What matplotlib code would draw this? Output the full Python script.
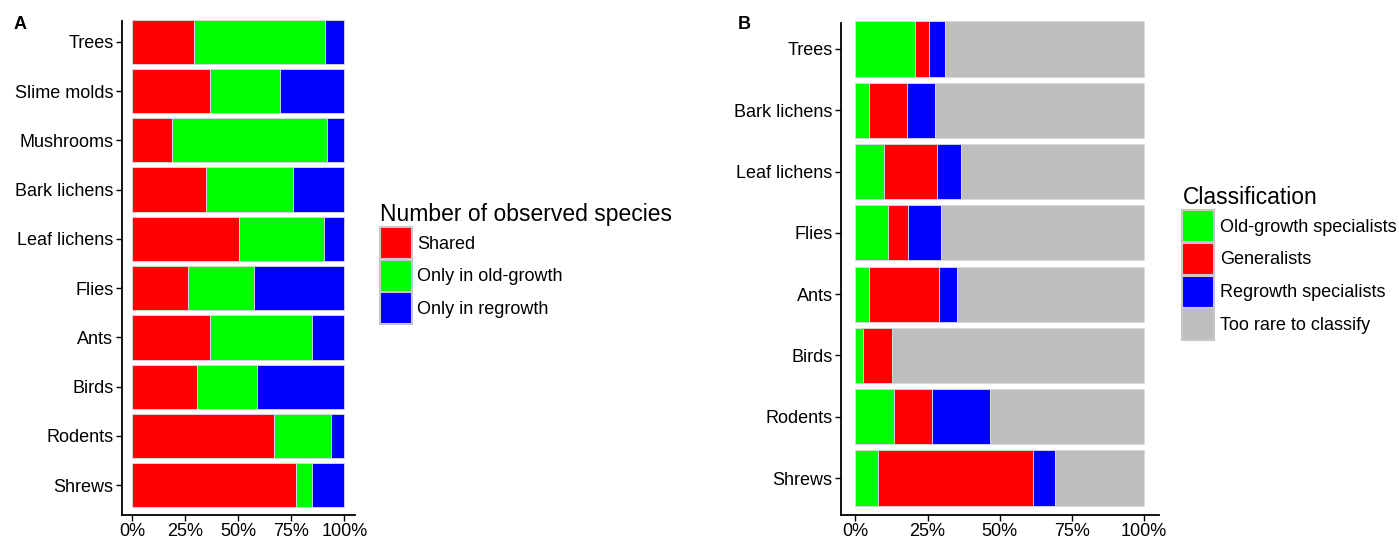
import matplotlib
matplotlib.use("Agg")
import matplotlib.pyplot as plt
from matplotlib.patches import Patch
from matplotlib.ticker import PercentFormatter
import numpy as np

plt.rcParams['font.family'] = ['Liberation Sans', 'DejaVu Sans']

# Panel A : part des espèces observées
groupes_a = ["Trees", "Slime molds", "Mushrooms", "Bark lichens", "Leaf lichens",
             "Flies", "Ants", "Birds", "Rodents", "Shrews"]
shared = [0.289, 0.365, 0.189, 0.349, 0.505, 0.263, 0.368, 0.307, 0.667, 0.770]
only_old = [0.620, 0.333, 0.729, 0.410, 0.398, 0.311, 0.479, 0.283, 0.269, 0.077]
only_regrowth = [0.091, 0.302, 0.082, 0.241, 0.097, 0.426, 0.153, 0.410, 0.064, 0.153]
labels_a = ["Shared", "Only in old-growth", "Only in regrowth"]

# Panel B : classification
groupes_b = ["Trees", "Bark lichens", "Leaf lichens", "Flies", "Ants",
             "Birds", "Rodents", "Shrews"]
old_spec = [0.208, 0.047, 0.098, 0.114, 0.046, 0.025, 0.134, 0.077]
generalists = [0.046, 0.133, 0.184, 0.070, 0.245, 0.102, 0.132, 0.538]
regrowth_spec = [0.057, 0.097, 0.083, 0.114, 0.062, 0.000, 0.199, 0.077]
too_rare = [0.689, 0.723, 0.635, 0.702, 0.647, 0.873, 0.535, 0.308]
labels_b = ["Old-growth specialists", "Generalists", "Regrowth specialists",
            "Too rare to classify"]

rouge, vert, bleu, gris = "#FF0000", "#00FF00", "#0000FF", "#BEBEBE"


def barres_empilees(ax, groupes, series, couleurs):
    pos = np.arange(len(groupes))
    gauche = np.zeros(len(groupes))
    for vals, c in zip(series, couleurs):
        vals = np.array(vals)
        ax.barh(pos, vals, left=gauche, height=0.9, color=c,
                edgecolor="#d8d8e8", linewidth=0.6)
        gauche += vals
    ax.set_yticks(pos)
    ax.set_yticklabels(groupes)
    ax.set_ylim(len(groupes) - 0.4, -0.6)
    ax.set_xlim(-0.05, 1.05)
    ax.set_xticks([0, 0.25, 0.5, 0.75, 1.0])
    ax.xaxis.set_major_formatter(PercentFormatter(1.0, decimals=0))
    for s in ["top", "right"]:
        ax.spines[s].set_visible(False)
    for s in ["left", "bottom"]:
        ax.spines[s].set_linewidth(1.3)
    ax.spines["left"].set_bounds(len(groupes) - 0.4, -0.43)
    ax.tick_params(axis="both", labelsize=13, length=4, width=1.0,
                   colors="black", pad=2)


fig = plt.figure(figsize=(13.99, 5.42), dpi=100)

ax1 = fig.add_axes([0.0870, 0.0502, 0.1667, 0.9273])
barres_empilees(ax1, groupes_a, [shared, only_old, only_regrowth],
                [rouge, vert, bleu])

ax2 = fig.add_axes([0.6011, 0.0502, 0.2270, 0.9273])
barres_empilees(ax2, groupes_b, [old_spec, generalists, regrowth_spec, too_rare],
                [vert, rouge, bleu, gris])

fig.text(0.0100, 0.970, "A", fontsize=13, fontweight="bold", va="top")
fig.text(0.5270, 0.970, "B", fontsize=13, fontweight="bold", va="top")

# Légendes (clés carrées collées les unes aux autres)
poignees_a = [Patch(facecolor=c, edgecolor="#c8c8c8", linewidth=1.5)
              for c in [rouge, vert, bleu]]
leg_a = fig.legend(poignees_a, labels_a, title="Number of observed species",
                   loc="upper left", bbox_to_anchor=(0.2716, 0.625),
                   frameon=False, fontsize=13, title_fontsize=16.5,
                   handlelength=1.77, handleheight=2.35, labelspacing=0.04,
                   handletextpad=0.3, borderpad=0, borderaxespad=0)
leg_a._legend_box.align = "left"

poignees_b = [Patch(facecolor=c, edgecolor="#c8c8c8", linewidth=1.5)
              for c in [vert, rouge, bleu, gris]]
leg_b = fig.legend(poignees_b, labels_b, title="Classification",
                   loc="upper left", bbox_to_anchor=(0.8452, 0.656),
                   frameon=False, fontsize=13, title_fontsize=16.5,
                   handlelength=1.77, handleheight=2.35, labelspacing=0.04,
                   handletextpad=0.3, borderpad=0, borderaxespad=0)
leg_b._legend_box.align = "left"

fig.savefig("out.png", dpi=100)
